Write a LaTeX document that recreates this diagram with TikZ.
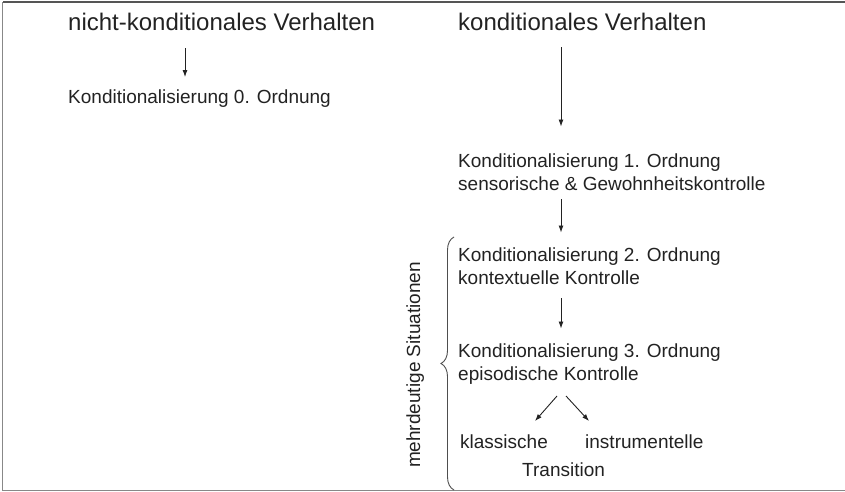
\documentclass[tikz,border=0pt]{standalone}
\usepackage{fontspec}
\setmainfont{Liberation Sans}
\usetikzlibrary{arrows.meta,decorations.pathreplacing}
\definecolor{ink}{HTML}{222222}
\definecolor{rule}{HTML}{555555}
\newcommand{\headfont}{\fontsize{24}{28}\selectfont}
\newcommand{\bodyfont}{\fontsize{19}{22.5}\selectfont}
\tikzset{
  lbl/.style={inner sep=0pt, anchor=base west, align=left, text=ink, font=\bodyfont},
  head/.style={lbl, font=\headfont},
  arr/.style={-{Latex[length=7pt,width=5pt]}, draw=ink, line width=0.9pt},
  brace/.style={decorate, decoration={brace, amplitude=13pt}, draw=ink!80, line width=0.9pt}
}
\begin{document}
\begin{tikzpicture}[x=1pt,y=-1pt]
    \useasboundingbox (0,0) rectangle (845,492);
    % frame: top, left and bottom only
    \draw[rule, line width=2pt] (845,2.5) -- (2.5,2.5);
    \draw[rule!70, line width=1.5pt] (2.5,2.5) -- (2.5,490.5) -- (845,490.5);
    % headings
    \node[head] (t0) at (68,31) {nicht-konditionales Verhalten};
    \node[head] (t1) at (458,31) {konditionales Verhalten};
    % levels (base = last line)
    \node[lbl] (k0) at (68,104) {Konditionalisierung 0. Ordnung};
    \node[lbl] (k1) at (458,190) {Konditionalisierung 1. Ordnung\\sensorische \& Gewohnheitskontrolle};
    \node[lbl] (k2) at (458,284) {Konditionalisierung 2. Ordnung\\kontextuelle Kontrolle};
    \node[lbl] (k3) at (458,380) {Konditionalisierung 3. Ordnung\\episodische Kontrolle};
    \node[lbl] (kl) at (460,448) {klassische};
    \node[lbl] (kin) at (585,448) {instrumentelle};
    \node[lbl] (tr) at (522,476) {Transition};
    \node[lbl, anchor=base, rotate=90] (amb) at (420,365) {mehrdeutige Situationen};
    % arrows
    \coordinate (lx) at (185,0);
    \coordinate (rx) at (561,0);
    \draw[arr, shorten <=17pt, shorten >=13pt] (t0.south -| lx) -- (k0.north -| lx);
    \draw[arr, shorten <=16pt, shorten >=27pt] (t1.south -| rx) -- (k1.north -| rx);
    \draw[arr, shorten <=9pt, shorten >=15pt] (k1.south -| rx) -- (k2.north -| rx);
    \draw[arr, shorten <=14pt, shorten >=15pt] (k2.south -| rx) -- (k3.north -| rx);
    \coordinate (fork-l) at (557,396);
    \coordinate (fork-r) at (566,396);
    \coordinate (tip-l) at (535,421);
    \coordinate (tip-r) at (589,421);
    \draw[arr] (fork-l) -- (tip-l);
    \draw[arr] (fork-r) -- (tip-r);
    % brace over the ambiguous levels
    \draw[brace] (454,490) -- (454,237);
\end{tikzpicture}
\end{document}
